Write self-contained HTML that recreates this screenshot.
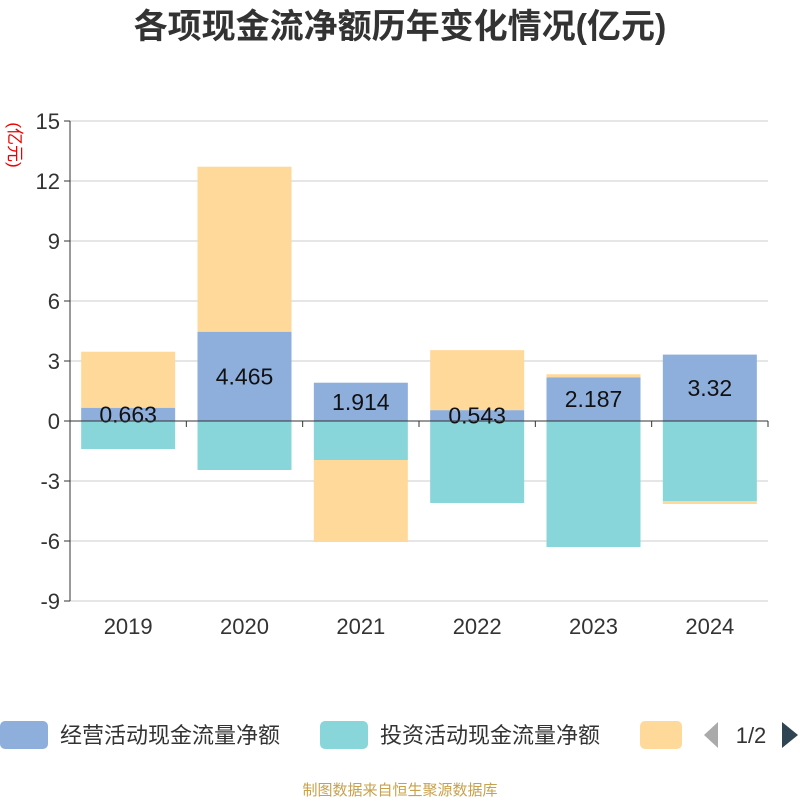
<!DOCTYPE html>
<html><head><meta charset="utf-8"><style>
body{margin:0;background:#fff;width:800px;height:800px;overflow:hidden;font-family:"Liberation Sans","Noto Sans CJK SC",sans-serif}
</style></head><body>
<svg id="c" width="800" height="800" xmlns="http://www.w3.org/2000/svg" font-family="Liberation Sans, Noto Sans CJK SC, sans-serif">
<text x="400" y="38" text-anchor="middle" font-size="34" font-weight="bold" fill="#333">各项现金流净额历年变化情况(亿元)</text>
<text transform="translate(9,145) rotate(90)" text-anchor="middle" font-size="17" fill="#e00">(亿元)</text>
<g id="grid"></g><g id="bars"></g><g id="labels"></g>
<g>
<rect x="0" y="721" width="48" height="28" rx="5" fill="#8eaedb"/>
<text x="60" y="743" font-size="22" fill="#333">经营活动现金流量净额</text>
<rect x="320" y="721" width="48" height="28" rx="5" fill="#88d6da"/>
<text x="380" y="743" font-size="22" fill="#333">投资活动现金流量净额</text>
<rect x="640" y="721" width="42" height="28" rx="5" fill="#ffd999"/>
<polygon points="718,722 718,748 704,735" fill="#aaa"/>
<text x="751" y="743" text-anchor="middle" font-size="22" fill="#333">1/2</text>
<polygon points="782,722 782,748 798,735" fill="#2f4554"/>
</g>
<text x="400" y="795" text-anchor="middle" font-size="15" fill="#c9a14a">制图数据来自恒生聚源数据库</text>
</svg>
<script>
const categories=["2019","2020","2021","2022","2023","2024"];
const operating=[0.663,4.465,1.914,0.543,2.187,3.32];
const investing=[-1.4,-2.45,-1.95,-4.1,-6.3,-4.0];
const financing=[2.8,8.25,-4.1,3.0,0.15,-0.15];
const yTicks=[-9,-6,-3,0,3,6,9,12,15];
const NS="http://www.w3.org/2000/svg";
const x0=70,x1=768,yTop=121,yBot=601,yMin=-9,yMax=15;
const y=v=>yBot-(v-yMin)/(yMax-yMin)*(yBot-yTop);
const band=(x1-x0)/categories.length;
const xc=i=>x0+band*(i+0.5);
function mk(tag,attrs,parent){const e=document.createElementNS(NS,tag);for(const k in attrs)e.setAttribute(k,attrs[k]);parent.appendChild(e);return e;}
const grid=document.getElementById('grid'),bars=document.getElementById('bars'),labels=document.getElementById('labels');
yTicks.forEach(t=>{
 if(t!==0){const l=mk('line',{x1:x0,x2:x1,y1:y(t),y2:y(t),stroke:'#ccc','stroke-width':1},grid);
 
 }
 const tk=mk('line',{x1:x0-6,x2:x0,y1:y(t),y2:y(t),stroke:'#333'},grid);
 
 
 const tx=mk('text',{x:x0-10,y:y(t)+8,'text-anchor':'end','font-size':22,fill:'#333'},grid);tx.textContent=t;
 
 
});
const ya=mk('line',{x1:x0,x2:x0,y1:yTop,y2:yBot,stroke:'#333'},grid);


categories.forEach((c,i)=>{
 const t=mk('text',{x:xc(i),y:634,'text-anchor':'middle','font-size':22,fill:'#333'},grid);t.textContent=c;
 
 
 const tk=mk('line',{x1:x0+band*(i+1),x2:x0+band*(i+1),y1:y(0),y2:y(0)+6,stroke:'#333'},grid);
 
 
});
const bw=94;
const series=[[operating,'#8eaedb','operating'],[investing,'#88d6da','investing'],[financing,'#ffd999','financing']];
categories.forEach((c,i)=>{
 let pos=0,neg=0;
 series.forEach(([arr,col,nm])=>{
  const v=arr[i];let a,b;
  if(v>=0){a=pos;b=pos+v;pos=b;}else{a=neg;b=neg+v;neg=b;}
  const r=mk('rect',{x:xc(i)-bw/2,y:Math.min(y(a),y(b)),width:bw,height:Math.abs(y(a)-y(b)),fill:col},bars);
  
  
 });
 const t=mk('text',{x:xc(i),y:(y(0)+y(operating[i]))/2+8,'text-anchor':'middle','font-size':23,fill:'#111'},labels);
 t.textContent=operating[i];
 
 
});
const xa=mk('line',{x1:x0,x2:x1,y1:y(0),y2:y(0),stroke:'#333'},labels);


</script>
</body></html>
